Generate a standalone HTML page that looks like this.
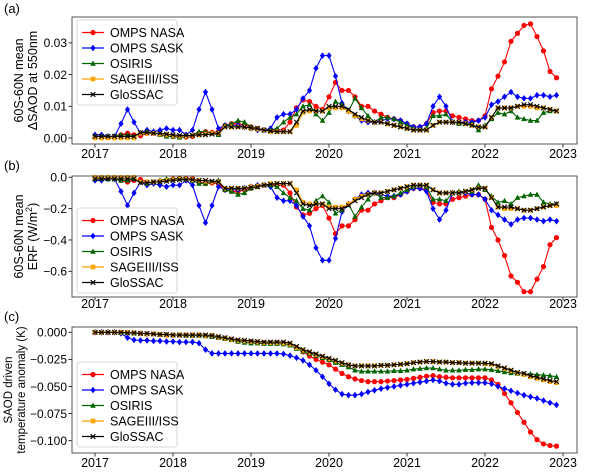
<!DOCTYPE html>
<html><head><meta charset="utf-8"><style>
body{margin:0;background:#fff;}
svg text{font-family:"Liberation Sans",sans-serif;}
</style></head><body>
<svg id="chart" width="600" height="470" xmlns="http://www.w3.org/2000/svg"></svg>
<script>
const years=[2017,2018,2019,2020,2021,2022,2023];
const seriesNames=["OMPS NASA","OMPS SASK","OSIRIS","SAGEIII/ISS","GloSSAC"];
const colors=["#ff0000","#0000ff","#006400","#ffa500","#000000"];
const markers=["circle","diamond","triangle","square","x"];
// Panel a (units 1e-3)
const redA=[0.5,0.5,0.3,0.5,1,1.5,1,0.7,1.5,1.5,1.2,1,0.5,0.3,0.3,0.5,1.5,2,1.8,2,4,4.5,4.5,4,3.5,3,2.5,2.5,2.5,2.5,5,9.5,12,11.5,10,9,13,17.5,15,15,13,10,10,8.5,7.5,6.5,6,5.5,4.5,3.5,3.5,4.5,8,8.5,8.5,7,6.5,6,5.5,5.5,7,15.5,19.5,24,30.5,33,35.5,36,32,27.5,21,19];
const blueA=[1,1,0.5,0.5,4.5,9,5,1.5,2.5,2,2.5,3,2.5,2.5,1,2.5,9,14.5,9,3,4,4,4,3.5,3,2.5,2.5,3,6.5,7.5,7.5,9,12.5,15,22,26,26,19.5,11,8.5,7,5.5,5,5,5.5,6,6,5.5,4.5,3.5,3.5,4.5,10,13,10,5,5,5,5,5.5,6.5,10.5,11.5,13,14.5,13,12.5,12.5,13.5,13.5,13,13.5];
const greenA=[0.5,0.5,0.5,0.5,1,1,0.5,1.5,2,1.5,1,0.5,0.5,0.2,0.5,1,2,2,1.5,1,4,4.5,5.5,5,3.5,3,2.5,2.5,3,5,6.5,7.5,10,10.5,7.5,5.5,8,11.5,10.5,8.5,12.5,9.5,7,5,6.5,6.5,6,5,4,3,2.5,3,7,7,7.5,5,4.5,4.5,4.5,2.5,4,6,8,7.5,8.5,6.5,6,5.5,5.5,8,8.5,8.5];
const sageA=[0,0,0,0,0,0,0,1.5,1.5,1.5,1.2,1,0.8,0.6,0.6,0.8,1,1.2,1.5,1.5,3.5,3.5,3.5,3.5,3,2.8,2.5,2,2,2,2,4,8,8.5,8.5,8.5,9.5,9.5,9.5,8.5,7,6,5.5,5,5,4.5,4,3.5,3,2.5,2.5,2.5,4,5,5,5,5,4.5,4,3.5,3.5,6.5,9.5,9.5,9.5,10,10,10,9.5,9.5,9,8.5];
const gloA=[0.5,0.5,0.5,0.5,0.5,0.5,0.5,1.7,1.7,1.5,1.5,1.2,1,0.8,0.8,0.8,1,1,1.2,1.5,3.5,3.5,3.5,3.5,3.2,3,2.5,2.2,2,2,2,5,8.5,9,8.5,8.5,10,10,10,9,7.5,6.5,5.5,5,5,4.5,4,3.5,3,2.5,2.5,2.5,4,5,5,5,5,4.5,4,3.5,3.5,6.5,9.5,9.5,9.5,10,10.5,10.5,10,9.5,9,8.5];
// Panel b (units 0.01 W/m2)
const redB=[-1,-1,-0.6,-1,-2,-3,-2,-1.4,-3,-3,-2.4,-2,-1,-0.6,-0.6,-1,-3,-4,-3.6,-4,-8,-9,-9,-8,-7,-6,-5,-5,-5,-5,-10,-19,-24,-23,-20,-18,-26,-36,-31,-31,-27,-21,-21,-17,-15,-13,-13,-11,-9,-7,-7,-8,-16,-17,-17,-14,-13,-12,-11,-11,-14,-32,-40,-50,-63,-67,-73,-73,-65,-57,-43,-38.5];
const blueB=[-2,-2,-1,-1,-9,-18,-10,-3,-5,-4,-5,-6,-5,-5,-2,-5,-18,-29,-18,-6,-8,-8,-8,-7,-6,-5,-5,-6,-13,-15,-15,-18,-25,-31,-45,-53,-53,-39,-22,-17,-14,-11,-10,-10,-11,-12,-12,-11,-9,-7,-7,-9,-20,-27,-21,-10,-10,-10,-11,-11,-14,-21,-24,-27,-30,-27,-26,-26,-27,-28,-27,-28];
const greenB=[-1,-1,-1,-1,-2,-2,-1,-3,-4,-3,-2,-1,-1,-0.5,-1,-2,-4,-4,-3,-2,-8,-9,-11,-10,-7,-6,-5,-5,-6,-10,-13,-15,-20,-21,-15,-12,-16,-23,-21,-17,-25,-19,-14,-10,-13,-13,-12,-10,-8,-6,-5,-6,-14,-14,-15,-10,-9,-9,-9,-5,-8,-12,-16,-15,-17,-13,-12,-11,-11,-16,-17,-17];
const sageB=[0,0,0,0,0,0,0,-3,-3,-3,-2.5,-2,-1.5,-1.2,-1.2,-1.5,-2,-2.5,-3,-3,-7,-7,-7,-7,-6,-5.5,-5,-4,-4,-4,-4,-8,-16,-17,-17,-17,-19,-19,-19,-17,-14,-12,-11,-10,-10,-9,-8,-7,-6,-5,-5,-5,-8,-10,-10,-10,-10,-9,-8,-7,-7,-13,-19,-20,-20,-20,-21,-21,-20,-19,-18,-18];
const gloB=[-1,-1,-1,-1,-1,-1,-1,-3.5,-3.5,-3,-3,-2.5,-2,-1.5,-1.5,-1.5,-2,-2,-2.5,-3,-7,-7,-7,-7,-6.5,-6,-5,-4.5,-4,-4,-4,-10,-17,-18,-17,-17,-20,-20,-20,-18,-15,-13,-11,-10,-10,-9,-8,-7,-6,-5,-5,-5,-8,-10,-10,-10,-10,-9,-8,-7,-7,-13,-19,-19,-19,-20,-21,-21,-20,-19,-18,-17];
// Panel c (units 1e-3 K)
const redC=[0,0,0,0,0,-0.5,-0.5,-1,-1.5,-1.5,-2,-2.5,-2.5,-2.5,-2.5,-2.5,-2.5,-3,-3,-4.5,-5.5,-6.5,-7.5,-8,-8.5,-9,-9.5,-9.5,-9.5,-10,-11,-14,-18,-22,-25,-27.5,-30,-34,-38,-41,-43,-44.5,-45.5,-45.5,-45.5,-45,-44.5,-44,-43.5,-42.5,-41.5,-40.5,-40,-41,-41.5,-42,-42,-42,-42,-42,-42,-44,-48,-56.5,-65,-74,-83,-92,-99,-103,-104.5,-105];
const blueC=[0,0,0,0,-1,-5,-7,-7.5,-7.5,-8,-8,-8.5,-8.5,-9,-9,-9,-10,-16,-19.5,-19.5,-19.5,-19.5,-19.5,-19.5,-19.5,-19.5,-19.5,-19.5,-19.5,-20,-21.5,-23.5,-26,-30,-35,-41,-47.5,-53,-57,-58,-58,-57,-55,-53.5,-52,-51,-50,-49,-48,-47,-46,-45,-44,-45,-47,-48,-48,-47,-46.5,-46.5,-46.5,-47.5,-50,-52,-54,-56,-58,-59.5,-61,-63,-65,-67];
const greenC=[0,0,0,0,-0.5,-0.5,-1,-1,-1.5,-1.5,-2,-2,-2.5,-2.5,-3,-3,-3,-3.5,-4,-5,-6,-7,-8.5,-9.5,-10,-10,-10.5,-10.5,-10.5,-11,-12,-15,-17.5,-19.5,-21.5,-23.5,-25.5,-28,-30,-32,-35,-36,-36,-36,-36,-36,-35.5,-35.5,-35,-34,-33.5,-33,-33,-34,-35,-35,-35,-34.5,-34.5,-34,-34,-34.5,-35.5,-36.5,-37.5,-38,-38.5,-38.5,-39,-39.5,-40,-41];
const sageC=[0,0,0,0,0,0,-0.5,-1,-1.5,-1.5,-2,-2.5,-2.5,-2.5,-2.5,-2.5,-2.5,-3,-3,-4.5,-5.5,-6.5,-7.5,-8,-8.5,-9,-9.5,-9.5,-9.5,-10,-11,-14,-16.5,-18.5,-20.5,-22.5,-24.5,-26.5,-28.5,-30,-31,-31,-31,-31,-30.5,-30.5,-30,-29.5,-29,-28,-27.5,-27,-27,-27.5,-27.5,-28,-28,-28.5,-28.5,-28.5,-29,-29.5,-31.5,-33.5,-35.5,-37.5,-39,-41,-42.5,-44,-45.5,-46.5];
const gloC=[0,0,0,0,0,-0.5,-0.5,-1,-1,-1.5,-2,-2,-2.5,-2.5,-2.5,-2.5,-2.5,-2.5,-3,-4,-5,-6,-7,-7.5,-8,-8.5,-9,-9,-9,-9,-10,-13,-16,-18,-20,-22,-24,-26,-28,-30,-31,-31,-31,-31,-30.5,-30.5,-30,-29.5,-29,-28,-27.5,-27,-27,-27.5,-27.5,-28,-28,-28.5,-28.5,-28.5,-28.5,-29,-31,-33,-35,-37,-38,-40,-41.5,-43,-44.5,-45.5];
const ticksA=[0,10,20,30], tickLabelsA=["0.00","0.01","0.02","0.03"];
const ticksB=[0,-20,-40,-60], tickLabelsB=["0.0","\u22120.2","\u22120.4","\u22120.6"];
const ticksC=[0,-25,-50,-75,-100], tickLabelsC=["0.000","\u22120.025","\u22120.050","\u22120.075","\u22120.100"];

const NS="http://www.w3.org/2000/svg";
const svg=document.getElementById('chart');
function mk(tag,attrs,parent){const e=document.createElementNS(NS,tag);for(const k in attrs)e.setAttribute(k,attrs[k]);(parent||svg).appendChild(e);return e;}
const xS=t=>95+(t-2017)*78;
const xM=i=>xS(2017+i/12);
function marker(g,type,x,y,c){
  let e;
  if(type==="circle")e=mk('circle',{cx:x,cy:y,r:2.6,fill:c},g);
  else if(type==="diamond")e=mk('polygon',{points:`${x},${y-3.3} ${x+2.6},${y} ${x},${y+3.3} ${x-2.6},${y}`,fill:c},g);
  else if(type==="triangle")e=mk('polygon',{points:`${x},${y-3} ${x+2.8},${y+2.2} ${x-2.8},${y+2.2}`,fill:c},g);
  else if(type==="square")e=mk('rect',{x:x-2.3,y:y-2.3,width:4.6,height:4.6,fill:c},g);
  else e=mk('path',{d:`M${x-2.3},${y-2.3}L${x+2.3},${y+2.3}M${x-2.3},${y+2.3}L${x+2.3},${y-2.3}`,stroke:c,'stroke-width':1.1},g);
  
  
}
function panel(id,top,bottom,yS,ticks,labels,data,title1,title2,letter,legTop,xLabY,tx1,tx2,letterY,tfs){
  const g=mk('g',{});
  
  
  const lt=mk('text',{x:4,y:letterY,'font-size':13},g);lt.textContent=letter;
  
  
  const ys=(top+bottom)/2;
  const t1=mk('text',{x:0,y:0,'font-size':tfs,'text-anchor':'middle',transform:`translate(${tx1},${ys}) rotate(-90)`},g);t1.textContent=title1;
  
  
  const t2=mk('text',{x:0,y:0,'font-size':tfs,'text-anchor':'middle',transform:`translate(${tx2},${ys}) rotate(-90)`},g);t2.innerHTML=title2;
  
  
  ticks.forEach((v,i)=>{const y=yS(v);mk('line',{x1:68.5,x2:72,y1:y,y2:y,stroke:'#000','stroke-width':0.8},g);
    const t=mk('text',{x:67,y:y+4.3,'font-size':12,'text-anchor':'end'},g);t.textContent=labels[i];
    
    });
  years.forEach(yr=>{const x=xS(yr);mk('line',{x1:x,x2:x,y1:bottom,y2:bottom+3.5,stroke:'#000','stroke-width':0.8},g);
    const t=mk('text',{x:x,y:xLabY,'font-size':12.5,'text-anchor':'middle'},g);t.textContent=yr;
    
    });
  const clip=mk('g',{},g);
  data.forEach((arr,s)=>{
    const sg=mk('g',{},clip);
    
    
    const pts=arr.map((v,i)=>`${xM(i).toFixed(2)},${yS(v).toFixed(2)}`).join(' ');
    mk('polyline',{points:pts,fill:'none',stroke:colors[s],'stroke-width':1.1},sg);
    arr.forEach((v,i)=>marker(sg,markers[s],xM(i),yS(v),colors[s]));
  });
  const fr=mk('rect',{x:72,y:top,width:505,height:bottom-top,fill:'none',stroke:'#444','stroke-width':0.9},g);
  
  
  const lg=mk('g',{},g);
  
  
  mk('rect',{x:77,y:legTop,width:100,height:85,rx:2.5,fill:'#fff','fill-opacity':0.85,stroke:'#ccc','stroke-width':0.8},lg);
  seriesNames.forEach((n,s)=>{
    const y=legTop+12.5+s*15.5;
    const e=mk('g',{},lg);
    
    
    mk('line',{x1:82,x2:104,y1:y,y2:y,stroke:colors[s],'stroke-width':1.2},e);
    marker(e,markers[s],93,y,colors[s]);
    const t=mk('text',{x:110,y:y+4.5,'font-size':12.5},e);t.textContent=n;
  });
}
panel('a',17,144,v=>138-v*3.17,ticksA,tickLabelsA,[redA,blueA,greenA,sageA,gloA],'60S-60N mean','\u0394SAOD at 550nm','(a)',20,158,23,37,13,12.5);
panel('b',176,297,v=>177.3-v*1.567,ticksB,tickLabelsB,[redB,blueB,greenB,sageB,gloB],'60S-60N mean','ERF (W/m<tspan baseline-shift="super" font-size="9">2</tspan>)','(b)',208,308,23,37,170,12.5);
panel('c',327,453,v=>332.3-v*1.084,ticksC,tickLabelsC,[redC,blueC,greenC,sageC,gloC],'SAOD driven','temperature anomaly (K)','(c)',362,467,12,25,321,11.5);
</script>
</body></html>
